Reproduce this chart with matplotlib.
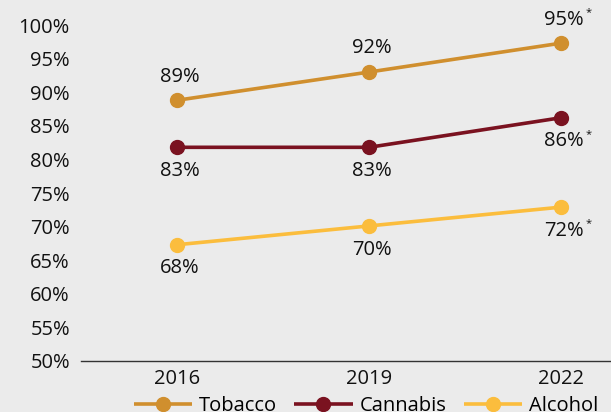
import matplotlib.pyplot as plt
import numpy as np

# survey years and values (positions as drawn, labels as printed)
years = ["2016", "2019", "2022"]
tobacco = [88.8, 93.0, 97.3]
cannabis = [81.8, 81.8, 86.2]
alcohol = [67.3, 70.1, 72.9]
tobacco_lbl = ["89%", "92%", "95%"]
cannabis_lbl = ["83%", "83%", "86%"]
alcohol_lbl = ["68%", "70%", "72%"]
starred = [False, False, True]
yticks = list(range(50, 101, 5))

bg = "#ebebeb"
colors = {"Tobacco": "#d08f2e", "Cannabis": "#7a1220", "Alcohol": "#fbbd3d"}
fs = 14.5

plt.rcParams['font.family'] = ['Open Sans', 'DejaVu Sans']

fig = plt.figure(figsize=(6.11, 4.12), dpi=100, facecolor=bg)
ax = fig.add_axes([81 / 611, 1 - 361 / 412, 1 - 81 / 611, 336 / 412])
ax.set_facecolor(bg)

x = np.arange(len(years))
series = [("Tobacco", tobacco, tobacco_lbl, 1),
          ("Cannabis", cannabis, cannabis_lbl, -1),
          ("Alcohol", alcohol, alcohol_lbl, -1)]
for name, vals, lbls, side in series:
    ax.plot(x, vals, color=colors[name], lw=2.6, marker="o", ms=10,
            label=name, solid_capstyle="butt")
    for xi, v, t, st in zip(x, vals, lbls, starred):
        off = 17 * side
        ax.annotate(t, (xi, v), xytext=(2, off), textcoords="offset points",
                    ha="center", va="center", fontsize=fs, color="#111111")
        if st:
            ax.annotate("*", (xi, v), xytext=(20, off + 5),
                        textcoords="offset points", ha="center", va="center",
                        fontsize=8, color="#111111")

ax.set_xlim(-0.5, 2.26)
ax.set_ylim(50, 100)
ax.set_yticks(yticks)
ax.set_yticklabels([f"{t}%" for t in yticks], fontsize=fs)
ax.set_xticks(x)
ax.set_xticklabels(years, fontsize=fs)
ax.tick_params(length=0, colors="#111111")
ax.tick_params(axis="x", pad=6)
ax.tick_params(axis="y", pad=8)
for s in ["left", "right", "top"]:
    ax.spines[s].set_visible(False)
ax.spines["bottom"].set_color("#333333")
ax.spines["bottom"].set_linewidth(1)

fig.legend(loc="center", bbox_to_anchor=(366 / 611, 1 - 406 / 412), ncol=3,
           frameon=False, fontsize=fs, handlelength=2.9, columnspacing=0.85,
           handletextpad=0.35)

fig.savefig("out.png", dpi=100, facecolor=bg)
